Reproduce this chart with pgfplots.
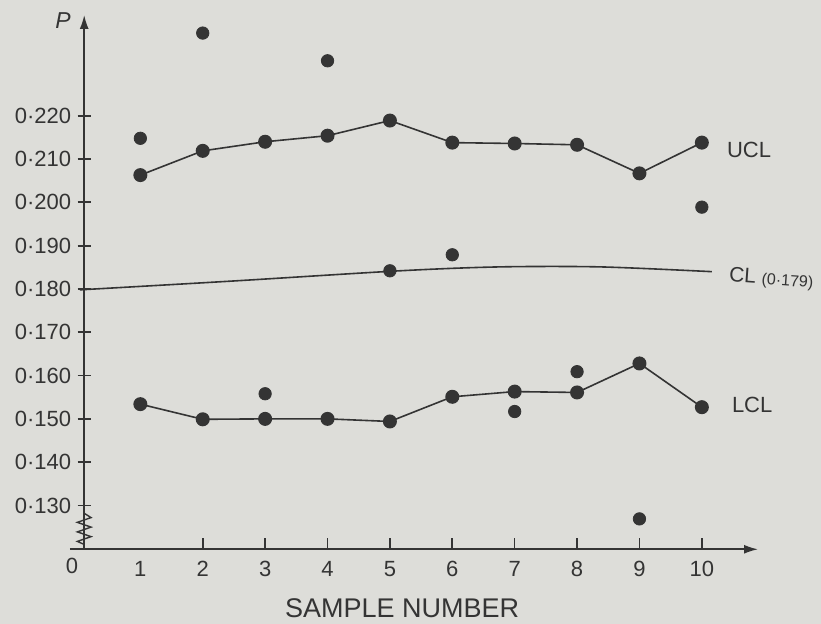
\documentclass[border=0pt]{standalone}
\usepackage{pgfplots}
\pgfplotsset{compat=1.18}
\usetikzlibrary{arrows.meta}
\usepackage{fontspec}
\setmainfont{Liberation Sans}
\definecolor{bg}{RGB}{221,221,217}
\definecolor{ink}{RGB}{52,52,52}
\begin{document}
\begin{tikzpicture}
\path[use as bounding box, fill=bg] (0,0) rectangle (410.5pt,312pt);
\begin{axis}[
  at={(42.1pt,37.35pt)}, anchor=south west,
  scale only axis, width=336.9pt, height=267.15pt,
  xmin=0.1, xmax=10.9, ymin=0.11988, ymax=0.24328,
  axis x line=bottom, axis y line=left,
  axis line style={ink, line width=0.8pt},
  x axis line style={-{Latex[length=7pt,width=4.5pt]}},
  y axis line style={-{Latex[length=7pt,width=4.5pt]}},
  clip=false,
  tick align=inside,
  major tick length=5.5pt,
  tick style={ink, line width=0.8pt},
  ytick style={draw=none},
  xtick={2,3,4,5,6,7,8,9,10},
  xticklabels={2,3,4,5,6,7,8,9,10},
  extra x ticks={1}, extra x tick labels={1},
  extra x tick style={major tick length=0pt},
  ytick={0.13,0.14,0.15,0.16,0.17,0.18,0.19,0.20,0.21,0.22},
  yticklabels={0·130,0·140,0·150,0·160,0·170,0·180,0·190,0·200,0·210,0·220},
  ticklabel style={font=\fontsize{11}{13}\selectfont, text=ink},
  yticklabel style={xshift=-3pt},
  xticklabel style={yshift=-2.5pt},
  xlabel={SAMPLE NUMBER},
  every axis x label/.style={at={(axis description cs:0.4717,-0.1099)}, anchor=center, font=\fontsize{13.5}{15}\selectfont, text=ink},
  ylabel={\itshape P},
  every axis y label/.style={at={(axis description cs:-0.0315,0.9888)}, anchor=center, font=\fontsize{11.5}{13}\selectfont, text=ink},
]
% centre line
\addplot[ink, line width=0.8pt, smooth, no markers] coordinates {
  (0.03,0.1798) (2.44,0.1818) (5.16,0.1842) (6.76,0.1851) (8.37,0.1851) (10.16,0.1840)
};
% UCL
\addplot[ink, line width=0.8pt, mark=*, mark size=3.1pt, mark options={fill=ink, draw=ink}] coordinates {
  (1,0.2063) (2,0.2119) (3,0.2140) (4,0.2154) (5,0.2189) (6,0.2138) (7,0.2136) (8,0.2133) (9,0.2067) (10,0.2138)
};
% LCL
\addplot[ink, line width=0.8pt, mark=*, mark size=3.1pt, mark options={fill=ink, draw=ink}] coordinates {
  (1,0.1534) (2,0.1499) (3,0.1500) (4,0.1500) (5,0.1494) (6,0.1551) (7,0.1563) (8,0.1561) (9,0.1628) (10,0.1527)
};
% sample fractions defective
\addplot[only marks, mark=*, mark size=3.1pt, mark options={fill=ink, draw=ink}] coordinates {
  (1,0.2148) (2,0.2391) (3,0.1558) (4,0.2327) (5,0.1842) (6,0.1879) (7,0.1517) (8,0.1609) (9,0.1269) (10,0.1989)
};
% y ticks crossing the axis
\draw[ink, line width=0.9pt]
  (axis cs:-0.005,0.13) -- (axis cs:0.205,0.13)
  (axis cs:-0.005,0.14) -- (axis cs:0.205,0.14)
  (axis cs:-0.005,0.15) -- (axis cs:0.205,0.15)
  (axis cs:-0.005,0.16) -- (axis cs:0.205,0.16)
  (axis cs:-0.005,0.17) -- (axis cs:0.205,0.17)
  (axis cs:-0.005,0.18) -- (axis cs:0.205,0.18)
  (axis cs:-0.005,0.19) -- (axis cs:0.205,0.19)
  (axis cs:-0.005,0.20) -- (axis cs:0.205,0.20)
  (axis cs:-0.005,0.21) -- (axis cs:0.205,0.21)
  (axis cs:-0.005,0.22) -- (axis cs:0.205,0.22);
% axis decorations
\draw[ink, line width=0.8pt] (axis cs:-0.13,0.11988) -- (axis cs:0.1,0.11988);
\draw[ink, line width=0.7pt] (axis cs:0.1,0.1282) -- (axis cs:0.21,0.1272) -- (axis cs:-0.01,0.1261) -- (axis cs:0.21,0.1250) -- (axis cs:-0.01,0.1239) -- (axis cs:0.21,0.1228) -- (axis cs:-0.01,0.1217) -- (axis cs:0.1,0.1210);
\node[text=ink, font=\fontsize{11}{13}\selectfont] at (axis cs:-0.096,0.1160) {0};
\node[anchor=west, text=ink, font=\fontsize{11}{13}\selectfont] at (axis cs:10.29,0.2121) {UCL};
\node[anchor=west, text=ink, font=\fontsize{11}{13}\selectfont] at (axis cs:10.37,0.1532) {LCL};
\node[anchor=west, text=ink, font=\fontsize{10.5}{12}\selectfont, rotate=-4, inner sep=1pt] at (axis cs:10.40,0.1830) {CL {\fontsize{8}{10}\selectfont(0·179)}};
\end{axis}
\end{tikzpicture}
\end{document}
